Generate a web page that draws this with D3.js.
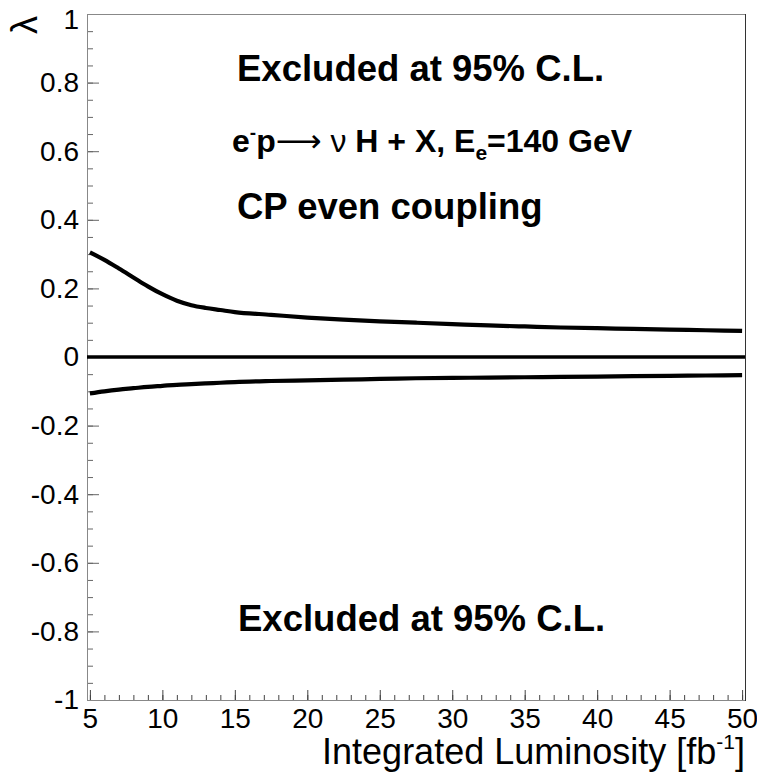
<!DOCTYPE html>
<html>
<head>
<meta charset="utf-8">
<script src="https://cdn.jsdelivr.net/npm/d3@7"></script>
<style>
  body { margin: 0; background: #fff; }
  svg { display: block; font-family: "Liberation Sans", Arial, Helvetica, sans-serif; }
</style>
</head>
<body>
<svg id="chart" width="757" height="774"></svg>
<script>
// luminosity points (fb^-1) and 95% C.L. limits on lambda
var lumi  = [5, 6, 7, 8, 9, 10, 11, 12, 13, 14, 15, 17.5, 20, 22.5, 25, 27.5, 30, 32.5, 35, 37.5, 40, 42.5, 45, 47.5, 50];
var upper = [0.305, 0.283, 0.258, 0.232, 0.206, 0.183, 0.164, 0.151, 0.143, 0.137, 0.131, 0.123, 0.115, 0.109, 0.104, 0.100, 0.096, 0.092, 0.089, 0.086, 0.084, 0.082, 0.080, 0.078, 0.076];
var lower = [-0.106, -0.100, -0.095, -0.091, -0.087, -0.084, -0.081, -0.079, -0.077, -0.075, -0.073, -0.070, -0.068, -0.066, -0.064, -0.062, -0.061, -0.060, -0.059, -0.058, -0.057, -0.056, -0.055, -0.054, -0.053];
var xRange = [4.8, 50.2];
var yRange = [-1, 1];
var xMajor = [5, 10, 15, 20, 25, 30, 35, 40, 45, 50];
var yMajor = [-1, -0.8, -0.6, -0.4, -0.2, 0, 0.2, 0.4, 0.6, 0.8, 1];

var svg = d3.select("#chart");
var frame = {left: 87, right: 745, top: 14, bottom: 700};

var x = d3.scaleLinear().domain(xRange).range([frame.left, frame.right]);
var y = d3.scaleLinear().domain(yRange).range([frame.bottom, frame.top]);

function fmtY(d){ return d === 0 ? "0" : String(+d.toFixed(1)); }

// minor ticks
var xMinor = d3.range(5, 50.01, 1);
var yMinor = d3.range(-1, 1.001, 0.05);

svg.append("g")
    .attr("transform", "translate(0," + frame.bottom + ")")
    .call(d3.axisBottom(x).tickValues(xMinor).tickSize(-5).tickFormat(""))
    .call(function(g){ g.select(".domain").remove(); g.selectAll("line").attr("stroke", "#444"); });

svg.append("g")
    .attr("transform", "translate(" + frame.left + ",0)")
    .call(d3.axisLeft(y).tickValues(yMinor).tickSize(-6).tickFormat(""))
    .call(function(g){ g.select(".domain").remove(); g.selectAll("line").attr("stroke", "#666"); });

// major ticks + labels
svg.append("g")
    .attr("transform", "translate(0," + frame.bottom + ")")
    .call(d3.axisBottom(x).tickValues(xMajor).tickSize(-10).tickPadding(8).tickFormat(d3.format("d")))
    .call(function(g){
      g.select(".domain").remove();
      g.selectAll("line").attr("stroke", "#444");
      g.selectAll("text").attr("font-size", 28).attr("fill", "#000").attr("font-family", null);
    });

svg.append("g")
    .attr("transform", "translate(" + frame.left + ",0)")
    .call(d3.axisLeft(y).tickValues(yMajor).tickSize(-12).tickPadding(8).tickFormat(fmtY))
    .call(function(g){
      g.select(".domain").remove();
      g.selectAll("line").attr("stroke", "#666");
      g.selectAll("text").attr("font-size", 28).attr("fill", "#000").attr("font-family", null);
      // top label sits a little lower so it stays inside the page
      g.selectAll(".tick").filter(function(d){ return d === 1; }).select("text").attr("dy", "0.52em");
    });

// frame
svg.append("line").attr("x1", frame.left).attr("x2", frame.right).attr("y1", frame.top + 0.5).attr("y2", frame.top + 0.5).attr("stroke", "#888");
svg.append("line").attr("x1", frame.left).attr("x2", frame.right).attr("y1", frame.bottom + 0.5).attr("y2", frame.bottom + 0.5).attr("stroke", "#888");
svg.append("line").attr("x1", frame.left + 0.5).attr("x2", frame.left + 0.5).attr("y1", frame.top).attr("y2", frame.bottom + 1).attr("stroke", "#888");
svg.append("line").attr("x1", frame.right + 0.5).attr("x2", frame.right + 0.5).attr("y1", frame.top).attr("y2", frame.bottom + 1).attr("stroke", "#333");

// curves
var line = d3.line()
    .x(function(d){ return x(d[0]); })
    .y(function(d){ return y(d[1]); })
    .curve(d3.curveMonotoneX);

[upper, lower].forEach(function(vals){
  svg.append("path")
      .datum(d3.zip(lumi, vals))
      .attr("fill", "none")
      .attr("stroke", "#000")
      .attr("stroke-width", 4.2)
      .attr("d", line);
});

svg.append("line")
    .attr("x1", x(xRange[0])).attr("x2", x(xRange[1]))
    .attr("y1", y(0)).attr("y2", y(0))
    .attr("stroke", "#000").attr("stroke-width", 3.5);

// texts
function bold(xp, yp, size, txt){
  return svg.append("text").attr("x", xp).attr("y", yp)
      .attr("font-size", size).attr("font-weight", "bold").text(txt);
}
bold(237, 81, 36.5, "Excluded at 95% C.L.");
bold(238, 631, 36.5, "Excluded at 95% C.L.");
bold(237, 219, 36.5, "CP even coupling");

var t2 = svg.append("text").attr("x", 232).attr("y", 152)
    .attr("font-size", 32).attr("font-weight", "bold");
t2.append("tspan").text("e");
t2.append("tspan").attr("font-size", 19).attr("dy", -13).text("-");
t2.append("tspan").attr("dy", 13).text("p");
t2.append("tspan").attr("font-weight", "normal").attr("font-family", "DejaVu Sans").text("\u27F6");
t2.append("tspan").attr("font-weight", "normal").text(" \u03bd");
t2.append("tspan").text(" H + X, E");
t2.append("tspan").attr("font-size", 21).attr("dy", 8).text("e");
t2.append("tspan").attr("dy", -8).text("=140 GeV");

var xt = svg.append("text").attr("x", 745).attr("y", 764)
    .attr("text-anchor", "end").attr("font-size", 36);
xt.append("tspan").text("Integrated Luminosity [fb");
xt.append("tspan").attr("font-size", 21).attr("dy", -15).text("-1");
xt.append("tspan").attr("dy", 15).text("]");

svg.append("text")
    .attr("transform", "translate(37,16) rotate(-90)")
    .attr("text-anchor", "end")
    .attr("font-size", 36)
    .text("\u03bb");
</script>
</body>
</html>
